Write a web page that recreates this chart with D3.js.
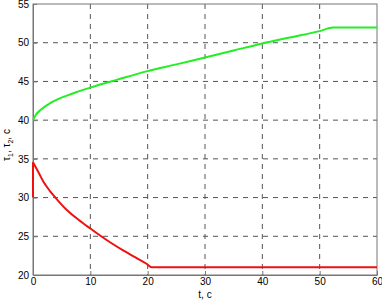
<!DOCTYPE html>
<html lang="en">
<head>
<meta charset="utf-8">
<script src="https://d3js.org/d3.v7.min.js"></script>
<style>
  body { margin: 0; background: #fff; }
  .axis text { font: 10px "Liberation Sans", Arial, sans-serif; fill: #000; }
  .axis path, .axis line { stroke: #777; }
  .grid line { stroke: #555; stroke-dasharray: 5,5; }
</style>
</head>
<body>
<svg width="382" height="302"></svg>
<script>
  // tick values
  var xTicks = [0, 10, 20, 30, 40, 50, 60];
  var yTicks = [20, 25, 30, 35, 40, 45, 50, 55];

  // tau2 (green)
  var greenT = [0, 0.5, 1.3, 3, 5.3, 7.5, 10, 14.6, 19.8, 25, 30, 35, 40, 45, 50, 52.3, 60];
  var greenV = [40, 40.7, 41.3, 42.2, 43.0, 43.6, 44.2, 45.2, 46.3, 47.2, 48.1, 49.0, 49.9, 50.7, 51.5, 51.95, 51.95];

  // tau1 (red), first point is the start value before the jump
  var redT = [0, 0, 1, 1.85, 3, 3.9, 5.9, 8, 10, 11.7, 13.5, 15.8, 17.8, 19.8, 20.7, 60];
  var redV = [30, 34.56, 33.2, 32.0, 30.8, 30.0, 28.4, 27.1, 26.0, 25.1, 24.2, 23.15, 22.3, 21.45, 21.0, 21.0];

  var margin = { top: 4, right: 5, bottom: 27, left: 33 };
  var width = 382 - margin.left - margin.right;
  var height = 302 - margin.top - margin.bottom;

  var svg = d3.select("svg");
  var g = svg.append("g")
    .attr("transform", "translate(" + margin.left + "," + margin.top + ")");

  var x = d3.scaleLinear().domain([0, 60]).range([0, width]);
  var y = d3.scaleLinear().domain([20, 55]).range([height, 0]);

  // grid
  g.append("g").attr("class", "grid")
    .selectAll("line")
    .data(xTicks.slice(1, -1))
    .enter().append("line")
    .attr("x1", function (d) { return x(d); })
    .attr("x2", function (d) { return x(d); })
    .attr("y1", 0).attr("y2", height);

  g.append("g").attr("class", "grid")
    .selectAll("line")
    .data(yTicks.slice(1, -1))
    .enter().append("line")
    .attr("y1", function (d) { return y(d); })
    .attr("y2", function (d) { return y(d); })
    .attr("x1", 0).attr("x2", width);

  // frame
  g.append("rect")
    .attr("width", width).attr("height", height)
    .attr("fill", "none").attr("stroke", "#777");

  g.append("g").attr("class", "axis")
    .attr("transform", "translate(0," + height + ")")
    .call(d3.axisBottom(x).tickValues(xTicks).tickSize(-4).tickPadding(3).tickSizeOuter(0));

  g.append("g").attr("class", "axis")
    .call(d3.axisLeft(y).tickValues(yTicks).tickSize(-4).tickPadding(4).tickSizeOuter(0));

  var line = d3.line()
    .x(function (d) { return x(d[0]); })
    .y(function (d) { return y(d[1]); })
    .curve(d3.curveMonotoneX);

  var straight = d3.line()
    .x(function (d) { return x(d[0]); })
    .y(function (d) { return y(d[1]); });

  g.append("path")
    .datum(d3.zip(greenT, greenV))
    .attr("d", line)
    .attr("fill", "none")
    .attr("stroke", "#22ee22")
    .attr("stroke-width", 2);

  var red = d3.zip(redT, redV);
  g.append("path")
    .datum(red.slice(0, 2))
    .attr("d", straight)
    .attr("fill", "none")
    .attr("stroke", "#ee1111")
    .attr("stroke-width", 2);

  g.append("path")
    .datum(red.slice(1))
    .attr("d", line)
    .attr("fill", "none")
    .attr("stroke", "#ee1111")
    .attr("stroke-width", 2);

  // axis labels
  svg.append("text")
    .attr("x", margin.left + width / 2)
    .attr("y", 298)
    .attr("text-anchor", "middle")
    .style("font", "10px 'Liberation Sans', Arial, sans-serif")
    .text("t, c");

  var yl = svg.append("text")
    .attr("transform", "translate(10,145) rotate(-90)")
    .attr("text-anchor", "middle")
    .style("font", "10px 'Liberation Sans', Arial, sans-serif");
  yl.append("tspan").text("τ");
  yl.append("tspan").attr("dy", 3).style("font-size", "7px").text("1");
  yl.append("tspan").attr("dy", -3).text(", τ");
  yl.append("tspan").attr("dy", 3).style("font-size", "7px").text("2");
  yl.append("tspan").attr("dy", -3).text(", c");
</script>
</body>
</html>
